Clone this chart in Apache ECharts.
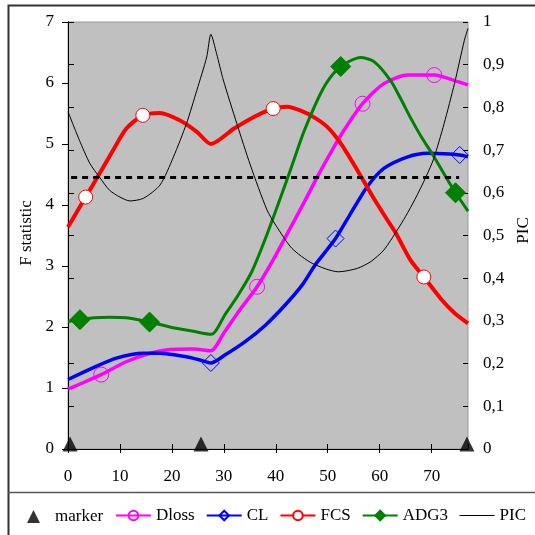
<!DOCTYPE html>
<html>
<head>
<meta charset="utf-8">
<script src="https://cdn.jsdelivr.net/npm/echarts@6/dist/echarts.min.js"></script>
<style>
  html, body { margin: 0; padding: 0; background: #fff; }
  #chart { width: 535px; height: 535px; }
</style>
</head>
<body>
<div id="chart"></div>
<script>
// Marker positions along the linkage group (cM)
const markerPos = [0.4, 25.6, 76.8];

// F statistic profiles, [position (cM), F]
const dloss = [[0,0.98],[3,1.09],[6.4,1.22],[11.2,1.43],[15.8,1.57],[19.6,1.63],[24.1,1.64],[27.5,1.61],[30,1.9],[33,2.27],[36.4,2.66],[39.3,3.07],[43.1,3.67],[45.5,4.05],[48,4.46],[50.2,4.8],[52.5,5.14],[56.7,5.66],[60.8,5.99],[65.4,6.13],[70.5,6.13],[74.4,6.04],[77,5.97]];
const dlossMarks = [6.4, 36.4, 56.7, 70.5];

const cl = [[0,1.14],[4.8,1.33],[9.3,1.49],[14.5,1.57],[17.7,1.57],[22.2,1.52],[25.4,1.46],[27.5,1.41],[30.2,1.54],[34.1,1.76],[38,2.03],[41.8,2.36],[45.1,2.69],[47.6,3.02],[51.5,3.45],[54.4,3.86],[57.6,4.3],[60.8,4.6],[65.4,4.79],[69.2,4.85],[72.4,4.84],[75.4,4.82],[77,4.79]];
const clMarks = [27.5, 51.5, 75.4];

const fcs = [[0,3.64],[3.4,4.13],[6.1,4.52],[8.7,4.9],[11.2,5.25],[14.4,5.47],[17.7,5.51],[21.5,5.39],[24.8,5.2],[27.5,5.0],[31.9,5.25],[35.7,5.44],[39.5,5.58],[42.2,5.61],[44.7,5.55],[47.3,5.44],[49.9,5.28],[52.5,5.01],[55.7,4.57],[58.5,4.16],[61.5,3.75],[63.1,3.54],[65.9,3.1],[68.5,2.82],[71.8,2.46],[74.4,2.23],[77,2.06]];
const fcsMarks = [3.4, 14.4, 39.5, 68.5];

const adg3 = [[0,2.09],[2.3,2.12],[5,2.15],[8,2.16],[11.2,2.15],[15.7,2.08],[19.6,2.0],[24.1,1.93],[27.6,1.88],[30.2,2.2],[32.8,2.53],[35.4,2.91],[38,3.45],[40.9,4.12],[42.8,4.57],[45.4,5.2],[48,5.72],[49.9,6.02],[52.5,6.27],[56.3,6.42],[58.9,6.35],[62.1,6.04],[64,5.75],[66,5.42],[68,5.12],[70.4,4.8],[72.8,4.45],[74.6,4.2],[77,3.9]];
const adg3Marks = [2.3, 15.7, 52.5, 74.6];

// Polymorphism information content, [position (cM), PIC]
const pic = [[0,0.79],[2.2,0.723],[4.2,0.669],[6.1,0.636],[8,0.606],[10,0.59],[11.9,0.581],[14.5,0.587],[17.7,0.618],[20.3,0.684],[22.8,0.762],[24.8,0.84],[26.7,0.918],[27.5,0.971],[28.6,0.926],[29.9,0.864],[32.5,0.762],[35.1,0.665],[38.3,0.56],[40,0.524],[43.1,0.47],[47,0.435],[52.1,0.415],[55.7,0.423],[58.3,0.439],[60.8,0.466],[63.4,0.513],[65,0.545],[66.8,0.585],[68.9,0.637],[70.4,0.68],[72.4,0.762],[74.4,0.856],[76.3,0.957],[77,0.985]];

// Significance threshold for F
const threshold = 4.45;
const thresholdSpan = [0.6, 75.3];

const FONT = '"Liberation Serif", "Times New Roman", serif';

// Only the listed positions carry a symbol; the rest are plain line vertices
function withMarks(points, marks) {
  return points.map(p => marks.includes(p[0]) ? { value: p } : { value: p, symbol: 'none' });
}

function profile(name, points, marks, color, symbol, size, fill, width) {
  return {
    name: name,
    type: 'line',
    xAxisIndex: 0,
    yAxisIndex: 0,
    data: withMarks(points, marks),
    smooth: 0.25,
    symbol: symbol,
    symbolSize: size,
    showSymbol: true,
    clip: false,
    lineStyle: { color: color, width: width },
    itemStyle: { color: fill, borderColor: color, borderWidth: 1 }
  };
}

const chart = echarts.init(document.getElementById('chart'), null, { renderer: 'canvas' });

const legendText = { fontFamily: FONT, fontSize: 17, color: '#000' };

const option = {
  animation: false,
  backgroundColor: '#ffffff',
  textStyle: { fontFamily: FONT },
  graphic: [
    { type: 'rect', shape: { x: 8.5, y: 5.5, width: 540, height: 540 },
      style: { fill: 'none', stroke: '#333', lineWidth: 2 }, silent: true, z: 100 },
    { type: 'line', shape: { x1: 8, y1: 492.5, x2: 535, y2: 492.5 },
      style: { stroke: '#555', lineWidth: 1.5 }, silent: true, z: 100 }
  ],
  grid: {
    left: 68, right: 67, top: 22, bottom: 86,
    outerBoundsMode: 'none',
    containLabel: false,
    show: true, backgroundColor: '#c0c0c0', borderColor: '#9a9a9a', borderWidth: 1
  },
  legend: [
    {
      data: ['marker'],
      left: 27, top: 508, padding: 0,
      itemWidth: 13, itemHeight: 13,
      textStyle: Object.assign({ padding: [0, 0, 0, 10] }, legendText)
    },
    {
      data: ['Dloss', 'CL', 'FCS', 'ADG3',
             { name: 'PIC', lineStyle: { width: 1 }, itemStyle: { opacity: 0 } }],
      left: 115, top: 507, padding: 0,
      itemWidth: 35, itemHeight: 12, itemGap: 11,
      lineStyle: { width: 2 },
      textStyle: legendText
    }
  ],
  xAxis: [
    {
      type: 'value', min: 0, max: 77, interval: 10,
      axisLine: { show: true, lineStyle: { color: '#000', width: 1 } },
      axisTick: { show: true, inside: false, length: 4, lineStyle: { color: '#000' } },
      axisLabel: { showMaxLabel: false, margin: 19, fontFamily: FONT, fontSize: 17, color: '#000' },
      splitLine: { show: false }
    },
    {
      type: 'value', min: 0, max: 77, interval: 10, position: 'bottom',
      axisLine: { show: false },
      axisTick: { show: true, inside: true, length: 5, lineStyle: { color: '#000' } },
      axisLabel: { show: false },
      splitLine: { show: false }
    }
  ],
  yAxis: [
    {
      type: 'value', min: 0, max: 7, interval: 1, position: 'left',
      name: 'F statistic', nameLocation: 'middle', nameGap: 33, nameRotate: 90,
      nameTextStyle: { fontFamily: FONT, fontSize: 17, color: '#000', padding: [0, 0, 0, 5] },
      axisLine: { show: true, lineStyle: { color: '#000', width: 1 } },
      axisTick: { show: true, inside: false, length: 6, lineStyle: { color: '#000' } },
      axisLabel: { margin: 14, fontFamily: FONT, fontSize: 17, color: '#000' },
      splitLine: { show: false }
    },
    {
      type: 'value', min: 0, max: 1, interval: 0.1, position: 'right',
      name: 'PIC', nameLocation: 'middle', nameGap: 46, nameRotate: 90,
      nameTextStyle: { fontFamily: FONT, fontSize: 17, color: '#000', padding: [0, 0, 0, 10] },
      axisLine: { show: true, lineStyle: { color: '#000', width: 1 } },
      axisTick: { show: true, inside: false, length: 6, lineStyle: { color: '#000' } },
      axisLabel: {
        margin: 15, fontFamily: FONT, fontSize: 17, color: '#000',
        formatter: v => String(+v.toFixed(1)).replace('.', ',')
      },
      splitLine: { show: false }
    },
    {
      type: 'value', min: 0, max: 1, interval: 0.1, position: 'right',
      axisLine: { show: false },
      axisTick: { show: true, inside: true, length: 5, lineStyle: { color: '#000' } },
      axisLabel: { show: false },
      splitLine: { show: false }
    }
  ],
  series: [
    {
      name: 'marker',
      type: 'scatter',
      xAxisIndex: 0, yAxisIndex: 0,
      data: markerPos.map(x => [x, 0]),
      symbol: 'triangle',
      symbolSize: 15,
      symbolOffset: [0, -5],
      clip: false,
      itemStyle: { color: '#000' }
    },
    profile('Dloss', dloss, dlossMarks, '#ff00ff', 'circle', 15, 'rgba(0,0,0,0)', 3.5),
    profile('CL', cl, clMarks, '#0000ff', 'diamond', 17, 'rgba(0,0,0,0)', 3.5),
    profile('FCS', fcs, fcsMarks, '#ff0000', 'circle', 14, '#ffffff', 4),
    profile('ADG3', adg3, adg3Marks, '#008000', 'diamond', 20, '#008000', 3),
    {
      name: 'PIC',
      type: 'line',
      xAxisIndex: 0, yAxisIndex: 1,
      data: pic,
      smooth: 0.25,
      showSymbol: false,
      symbol: 'none',
      clip: false,
      lineStyle: { color: '#000', width: 1 },
      itemStyle: { color: 'rgba(0,0,0,0)', borderWidth: 0 }
    },
    {
      name: 'threshold',
      type: 'line',
      xAxisIndex: 0, yAxisIndex: 0,
      data: thresholdSpan.map(x => [x, threshold]),
      symbol: 'none',
      lineStyle: { color: '#000', width: 3, type: [6, 5] }
    }
  ]
};

chart.setOption(option);
</script>
</body>
</html>
